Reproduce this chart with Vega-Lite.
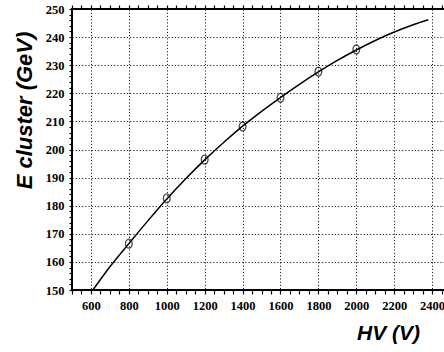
{
  "$schema": "https://vega.github.io/schema/vega-lite/v6.json",
  "autosize": "none",
  "padding": {"left": 72, "top": 9, "right": 0, "bottom": 62},
  "width": 373,
  "height": 281,
  "background": "white",
  "config": {
    "view": {"stroke": "black", "strokeWidth": 2},
    "axis": {
      "labelFont": "Liberation Serif",
      "labelFontWeight": "bold",
      "labelFontSize": 12.5,
      "labelColor": "black",
      "labelOverlap": false,
      "titleFont": "Liberation Sans",
      "titleFontWeight": "bold",
      "titleFontStyle": "italic",
      "titleColor": "black",
      "ticks": true,
      "tickCount": 200,
      "tickWidth": 1.2,
      "domain": false,
      "gridColor": "#222",
      "gridWidth": 1,
      "gridDash": [1.2, 2]
    }
  },
  "datasets": {
    "curve": [
      {"hv": 610, "e": 150},
      {"hv": 700, "e": 158.3},
      {"hv": 800, "e": 166.5},
      {"hv": 900, "e": 174.6},
      {"hv": 1000, "e": 182.4},
      {"hv": 1100, "e": 189.6},
      {"hv": 1200, "e": 196.3},
      {"hv": 1300, "e": 202.5},
      {"hv": 1400, "e": 208.3},
      {"hv": 1500, "e": 213.6},
      {"hv": 1600, "e": 218.5},
      {"hv": 1700, "e": 223.2},
      {"hv": 1800, "e": 227.6},
      {"hv": 1900, "e": 231.7},
      {"hv": 2000, "e": 235.4},
      {"hv": 2100, "e": 238.8},
      {"hv": 2200, "e": 241.8},
      {"hv": 2300, "e": 244.4},
      {"hv": 2380, "e": 246.2}
    ],
    "points": [
      {"hv": 800, "e": 166.5},
      {"hv": 1000, "e": 182.6},
      {"hv": 1200, "e": 196.4},
      {"hv": 1400, "e": 208.2},
      {"hv": 1600, "e": 218.4},
      {"hv": 1800, "e": 227.7},
      {"hv": 2000, "e": 235.6}
    ]
  },
  "resolve": {"axis": {"x": "independent"}},
  "layer": [
    {
      "data": {"name": "curve"},
      "mark": {"type": "line", "color": "black", "strokeWidth": 1.5, "interpolate": "monotone", "clip": true},
      "encoding": {
        "x": {
          "field": "hv", "type": "quantitative",
          "scale": {"domain": [500, 2468], "nice": false, "zero": false},
          "axis": {
            "orient": "bottom",
            "title": "HV (V)",
            "titleFontSize": 21,
            "titleX": 316,
            "titleY": 43,
            "titleAlign": "center",
            "titleBaseline": "middle",
            "format": "d",
            "tickCount": 200,
            "values": [500,550,600,650,700,750,800,850,900,950,1000,1050,1100,1150,1200,1250,1300,1350,1400,1450,1500,1550,1600,1650,1700,1750,1800,1850,1900,1950,2000,2050,2100,2150,2200,2250,2300,2350,2400,2450],
            "labelExpr": "datum.value % 200 == 0 && datum.value >= 600 ? datum.label : ''",
            "labelPadding": 5,
            "tickSize": 4,
            "tickColor": "black",
            "grid": true,
            "gridOpacity": {"condition": {"test": "datum.value % 200 == 0 && datum.value > 500", "value": 1}, "value": 0}
          }
        },
        "y": {
          "field": "e", "type": "quantitative",
          "scale": {"domain": [150, 250], "nice": false, "zero": false},
          "axis": {
            "title": "E cluster (GeV)",
            "titleFontSize": 22,
            "titleX": -48,
            "titleY": 101,
            "titleAngle": -90,
            "titleAlign": "center",
            "titleBaseline": "middle",
            "format": "d",
            "tickCount": 200,
            "values": [150,152,154,156,158,160,162,164,166,168,170,172,174,176,178,180,182,184,186,188,190,192,194,196,198,200,202,204,206,208,210,212,214,216,218,220,222,224,226,228,230,232,234,236,238,240,242,244,246,248,250],
            "labelExpr": "datum.value % 10 == 0 ? datum.label : ''",
            "labelPadding": 5,
            "tickSize": 3,
            "tickColor": "black",
            "grid": true,
            "gridOpacity": {"condition": {"test": "datum.value % 10 == 0 && datum.value > 150 && datum.value < 250", "value": 1}, "value": 0}
          }
        }
      }
    },
    {
      "data": {"name": "points"},
      "mark": {"type": "point", "filled": false, "color": "black", "strokeWidth": 1.3, "size": 80, "shape": "M -0.75 0 A 0.75 1 0 1 0 0.75 0 A 0.75 1 0 1 0 -0.75 0 Z"},
      "encoding": {
        "x": {
          "field": "hv", "type": "quantitative",
          "axis": {
            "orient": "top",
            "title": null,
            "labels": false,
            "grid": false,
            "tickCount": 200,
            "values": [500,550,600,650,700,750,800,850,900,950,1000,1050,1100,1150,1200,1250,1300,1350,1400,1450,1500,1550,1600,1650,1700,1750,1800,1850,1900,1950,2000,2050,2100,2150,2200,2250,2300,2350,2400,2450],
            "tickSize": 4,
            "tickColor": "black"
          }
        },
        "y": {"field": "e", "type": "quantitative"}
      }
    }
  ]
}
